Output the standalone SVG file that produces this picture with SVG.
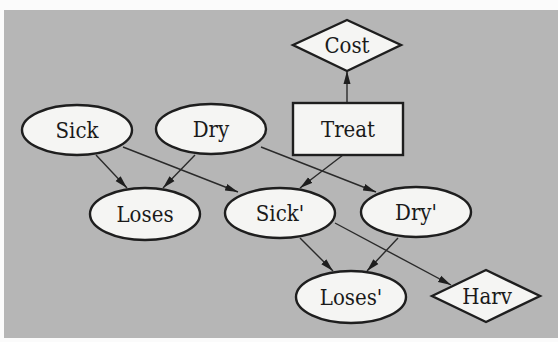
<svg xmlns="http://www.w3.org/2000/svg" width="558" height="342" viewBox="0 0 558 342">
  <style>
    .node { fill: #f5f5f3; stroke: #1e1e1e; stroke-width: 2.4; }
    .label { font-family: "DejaVu Serif", "Liberation Serif", serif; font-stretch: condensed; font-size: 22px; fill: #1a1a1a; text-anchor: middle; }
    .edge { stroke: #2a2a2a; stroke-width: 1.4; fill: none; marker-end: url(#arrow); }
  </style>
  <defs>
    <marker id="arrow" viewBox="0 0 13 8" refX="13" refY="4" markerWidth="13" markerHeight="8" markerUnits="userSpaceOnUse" orient="auto">
      <path d="M0,0.5 L13,4 L0,7.5 z" fill="#1e1e1e"/>
    </marker>
  </defs>

  <!-- page and panel -->
  <rect x="0" y="0" width="558" height="342" fill="#fbfbfb"/>
  <rect x="4" y="10" width="554" height="328" fill="#b6b6b6"/>

  <!-- connectors -->
  <g id="edges">
    <line class="edge" x1="347" y1="103" x2="347" y2="71"/>
    <line class="edge" x1="96" y1="155" x2="127" y2="188"/>
    <line class="edge" x1="195" y1="155" x2="163" y2="188"/>
    <line class="edge" x1="123" y1="147" x2="238" y2="192"/>
    <line class="edge" x1="261" y1="147" x2="376" y2="192"/>
    <line class="edge" x1="343" y1="155" x2="300" y2="188"/>
    <line class="edge" x1="300" y1="238" x2="333" y2="271"/>
    <line class="edge" x1="398" y1="238" x2="367" y2="271"/>
    <line class="edge" x1="335" y1="223" x2="451" y2="285"/>
  </g>

  <!-- nodes -->
  <g id="cost">
    <polygon class="node" points="293,45 347,20 401,45 347,71"/>
    <text class="label" x="347" y="53">Cost</text>
  </g>
  <g id="treat">
    <rect class="node" x="293" y="103" width="110" height="52"/>
    <text class="label" x="348" y="137">Treat</text>
  </g>
  <g id="sick">
    <ellipse class="node" cx="77" cy="130" rx="55" ry="25"/>
    <text class="label" x="77" y="138">Sick</text>
  </g>
  <g id="dry">
    <ellipse class="node" cx="211" cy="129" rx="55" ry="25"/>
    <text class="label" x="211" y="137">Dry</text>
  </g>
  <g id="loses">
    <ellipse class="node" cx="145" cy="214" rx="55" ry="26"/>
    <text class="label" x="145" y="222">Loses</text>
  </g>
  <g id="sick2">
    <ellipse class="node" cx="280" cy="213" rx="55" ry="25"/>
    <text class="label" x="280" y="221">Sick'</text>
  </g>
  <g id="dry2">
    <ellipse class="node" cx="416" cy="212" rx="55" ry="25"/>
    <text class="label" x="416" y="220">Dry'</text>
  </g>
  <g id="loses2">
    <ellipse class="node" cx="351" cy="297" rx="55" ry="26"/>
    <text class="label" x="351" y="305">Loses'</text>
  </g>
  <g id="harv">
    <polygon class="node" points="432,296 486,270 540,296 486,322"/>
    <text class="label" x="487" y="304">Harv</text>
  </g>
</svg>
